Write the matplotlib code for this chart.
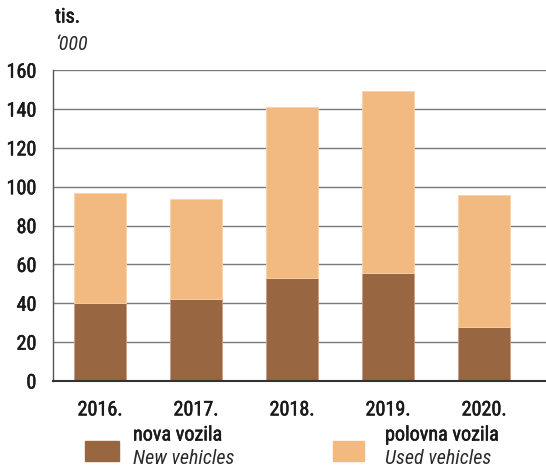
import matplotlib.pyplot as plt
import matplotlib.patheffects as pe
import numpy as np

# data (thousands of vehicles)
years = ['2016.', '2017.', '2018.', '2019.', '2020.']
new_vehicles = [40.0, 42.3, 53.2, 55.8, 27.8]
total_vehicles = [96.6, 93.8, 140.8, 149.3, 95.6]
used_vehicles = [t - n for t, n in zip(total_vehicles, new_vehicles)]
yticks = [0, 20, 40, 60, 80, 100, 120, 140, 160]

plt.rcParams['font.family'] = ['Roboto Condensed', 'DejaVu Sans']

# regular weight thickened a little -> roughly a "medium" cut
medium = [pe.withStroke(linewidth=0.4, foreground='#1a1a1a')]

fig = plt.figure(figsize=(5.46, 4.68), dpi=100)
ax = fig.add_axes([0.097, 0.186, 0.903, 0.664])

x = np.arange(len(years))
ax.bar(x, new_vehicles, width=0.54, color='#996642', edgecolor='#c9a07c', linewidth=0.6, zorder=3)
ax.bar(x, used_vehicles, bottom=new_vehicles, width=0.54, color='#f2ba80',
       edgecolor='#f8d3a8', linewidth=0.6, zorder=3)

ax.set_xlim(-0.49, 4.646)
ax.set_ylim(0, 160)
ax.set_yticks(yticks)
ax.set_xticks(x)
ax.set_xticklabels(years)
ax.tick_params(axis='both', length=0, labelsize=14.5, colors='#1a1a1a')
ax.tick_params(axis='y', pad=12)
ax.tick_params(axis='x', pad=14)
for lab in ax.get_xticklabels() + ax.get_yticklabels():
    lab.set_path_effects(medium)

ax.yaxis.grid(True, color='#7a7a7a', linewidth=1.0, zorder=0)
ax.set_axisbelow(True)
for s in ['top', 'right']:
    ax.spines[s].set_visible(False)
ax.spines['left'].set_color('#555555')
ax.spines['left'].set_linewidth(1.0)
ax.spines['bottom'].set_color('#333333')
ax.spines['bottom'].set_linewidth(1.5)
ax.spines['bottom'].set_zorder(4)

# unit labels
fig.text(55 / 546, 1 - 17 / 468, 'tis.', fontsize=14.5, va='center', ha='left',
         color='#1a1a1a', path_effects=medium)
fig.text(55 / 546, 1 - 45 / 468, '\u2018000', fontsize=14.5, style='italic',
         va='center', ha='left', color='#2a2a2a')

# legend
fig.patches.append(plt.Rectangle((85 / 546, 1 - 461 / 468), 34 / 546, 20 / 468,
                                 transform=fig.transFigure, color='#996642'))
fig.text(133 / 546, 1 - 435 / 468, 'nova vozila', fontsize=14.5, va='center', ha='left',
         color='#1a1a1a', path_effects=medium)
fig.text(133 / 546, 1 - 459 / 468, 'New vehicles', fontsize=14.5, style='italic',
         va='center', ha='left', color='#2a2a2a')

fig.patches.append(plt.Rectangle((333 / 546, 1 - 461 / 468), 31 / 546, 20 / 468,
                                 transform=fig.transFigure, color='#f2ba80'))
fig.text(385 / 546, 1 - 435 / 468, 'polovna vozila', fontsize=14.5, va='center', ha='left',
         color='#1a1a1a', path_effects=medium)
fig.text(385 / 546, 1 - 459 / 468, 'Used vehicles', fontsize=14.5, style='italic',
         va='center', ha='left', color='#2a2a2a')

fig.savefig('out.png', dpi=100)
